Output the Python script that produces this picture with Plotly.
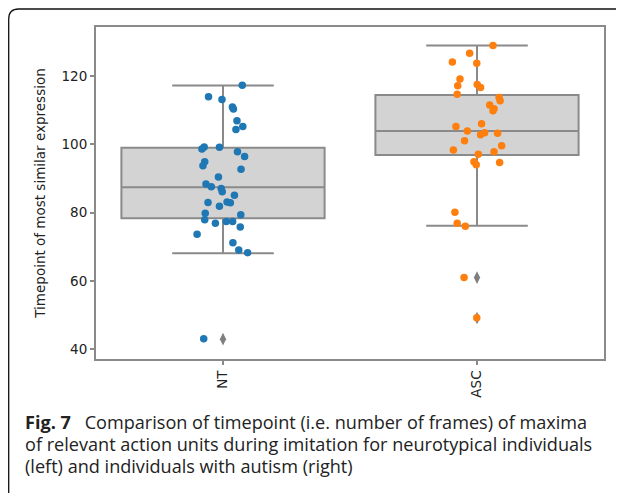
import plotly.graph_objects as go

# ---------------- data ----------------
groups = ["NT", "ASC"]
group_pos = [0, 1]

nt_values = [117.3, 113.9, 113.1, 110.9, 110.3, 106.9, 105.2, 104.3, 99.2, 98.6,
             99.1, 97.8, 96.4, 94.9, 93.7, 92.7, 90.4, 88.4, 87.6, 87.1,
             86.1, 85.1, 83.0, 83.1, 82.9, 81.9, 79.8, 79.4, 77.9, 76.9,
             77.4, 77.4, 75.8, 73.7, 71.2, 69.1, 68.3, 43.1]
nt_jitter = [0.076, -0.057, -0.004, 0.037, 0.041, 0.055, 0.078, 0.051, -0.074, -0.083,
             -0.014, 0.057, 0.085, -0.072, -0.079, 0.071, -0.018, -0.067, -0.046, -0.007,
             -0.003, 0.045, -0.059, 0.016, 0.029, -0.014, -0.070, 0.070, -0.072, -0.030,
             0.013, 0.038, 0.068, -0.102, 0.039, 0.062, 0.097, -0.076]

asc_values = [128.9, 126.6, 124.1, 123.7, 119.1, 117.1, 117.5, 116.6, 114.6, 113.7,
              112.7, 111.5, 110.4, 109.8, 106.0, 105.2, 103.9, 103.4, 102.8, 103.2,
              101.0, 99.6, 98.3, 97.8, 97.1, 94.9, 94.0, 94.7, 80.1, 76.9,
              76.0, 61.0, 49.3]
asc_jitter = [0.063, -0.029, -0.097, -0.001, -0.067, -0.076, 0.001, 0.014, -0.078, 0.087,
              0.091, 0.050, 0.067, 0.063, 0.018, -0.083, -0.038, 0.030, 0.014, 0.081,
              -0.049, 0.097, -0.093, 0.067, 0.005, -0.012, -0.003, 0.089, -0.087, -0.078,
              -0.046, -0.051, -0.001]

# box statistics per group (NT, ASC)
q1 = [78.4, 96.9]
median = [87.4, 103.9]
q3 = [99.0, 114.4]
lower_whisker = [68.1, 76.2]
upper_whisker = [117.2, 128.9]

nt_outliers = [43.0]
asc_outliers = [61.0, 49.2]

y_ticks = [40, 60, 80, 100, 120]
y_title = "Timepoint of most similar expression"
caption_lines = [
    "<b>Fig. 7</b>\u2002 Comparison of timepoint (i.e. number of frames) of maxima",
    "of relevant action units during imitation for neurotypical individuals",
    "(left) and individuals with autism (right)",
]

# ---------------- layout geometry ----------------
OFF = 8                      # page body margin: figure starts 8 px into the window
W, H = 624 - OFF, 493 - OFF
PL, PR, PT, PB = 96, 604, 27, 359   # plot area in window pixels
L, R, T, B = PL - OFF, W - (PR - OFF), PT - OFF, H - (PB - OFF)
pw, ph = W - L - R, H - T - B


def px_x(px):
    return (px - PL) / pw


def px_y(py):
    return (PB - py) / ph


line_gray = "#8a8a8a"
box_fill = "#d3d3d3"
blue = "#1f77b4"
orange = "#ff7f0e"
tick_font = dict(family="DejaVu Sans", size=13.5, color="#222222")

fig = go.Figure()

for i in range(2):
    fig.add_trace(go.Box(
        x=[group_pos[i]], q1=[q1[i]], median=[median[i]], q3=[q3[i]],
        lowerfence=[lower_whisker[i]], upperfence=[upper_whisker[i]],
        width=0.8, whiskerwidth=0.5, boxpoints=False,
        fillcolor=box_fill, line=dict(color=line_gray, width=2),
        hoverinfo="skip", showlegend=False,
    ))

# outliers (gray diamonds)
fig.add_trace(go.Scatter(
    x=[group_pos[0]] * len(nt_outliers) + [group_pos[1]] * len(asc_outliers),
    y=nt_outliers + asc_outliers, mode="markers",
    marker=dict(symbol="diamond-tall", size=9, color="#7f7f7f"),
    showlegend=False,
))

# strip points
fig.add_trace(go.Scatter(
    x=[group_pos[0] + j for j in nt_jitter], y=nt_values, mode="markers",
    marker=dict(size=7.5, color=blue, line=dict(width=0)), showlegend=False,
))
fig.add_trace(go.Scatter(
    x=[group_pos[1] + j for j in asc_jitter], y=asc_values, mode="markers",
    marker=dict(size=7.5, color=orange, line=dict(width=0)), showlegend=False,
))

fig.update_xaxes(
    range=[-0.5, 1.5], tickvals=group_pos, ticktext=groups, tickangle=-90,
    ticks="outside", ticklen=4, tickwidth=1.5, tickcolor=line_gray,
    showline=True, linecolor=line_gray, linewidth=2, mirror=True,
    showgrid=False, zeroline=False, tickfont=tick_font,
)
fig.update_yaxes(
    range=[37.2, 134.3], tickvals=y_ticks,
    ticks="outside", ticklen=4, tickwidth=1.5, tickcolor=line_gray,
    showline=True, linecolor=line_gray, linewidth=2, mirror=True,
    showgrid=False, zeroline=False, tickfont=tick_font,
    title=dict(text=y_title, standoff=13,
               font=dict(family="DejaVu Sans", size=13.5, color="#222222")),
    automargin=False,
)

annotations = []
caption_y = [422, 444, 466]
for txt, yy in zip(caption_lines, caption_y):
    annotations.append(dict(
        text=txt, x=px_x(23), y=px_y(yy), xref="paper", yref="paper",
        showarrow=False, xanchor="left", yanchor="middle",
        font=dict(family="Open Sans", size=18.1, color="#222222"),
    ))

# outer rounded frame of the figure panel
x0, x1 = px_x(8.7), px_x(660)
y0, y1 = px_y(9), px_y(520)
rx, ry = 10 / pw, 10 / ph
frame_path = (f"M {x1},{y0} L {x0 + rx},{y0} Q {x0},{y0} {x0},{y0 - ry} "
              f"L {x0},{y1}")

fig.update_layout(
    width=W, height=H, margin=dict(l=L, r=R, t=T, b=B),
    paper_bgcolor="white", plot_bgcolor="white",
    annotations=annotations,
    shapes=[dict(type="path", path=frame_path, xref="paper", yref="paper",
                 line=dict(color="#111111", width=1.3))],
)

fig.write_html("out.html")
